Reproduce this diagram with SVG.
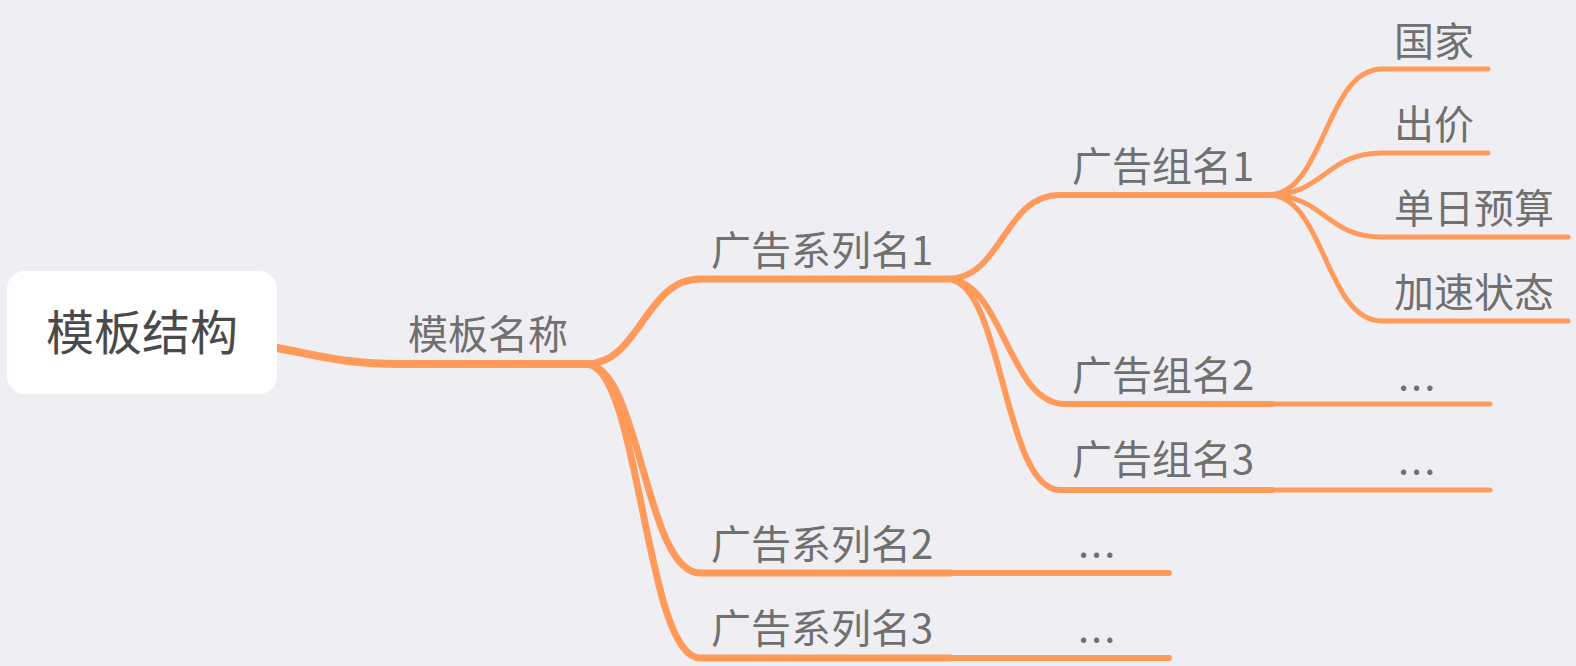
<svg xmlns="http://www.w3.org/2000/svg" width="1576" height="666" viewBox="0 0 1576 666">
<style>
.bg{fill:#efeef3}
.c{fill:none;stroke:#ff9a5a;stroke-linecap:round;stroke-linejoin:round}
.w7{stroke-width:8}.w6{stroke-width:7}.w5{stroke-width:6}.w4{stroke-width:5}
.t{font-family:"Noto Sans CJK SC","Noto Sans",sans-serif;font-size:40px;fill:#707070}
.root{font-family:"Noto Sans CJK SC","Noto Sans",sans-serif;font-size:48px;fill:#4a4a4a}
</style>
<rect class="bg" x="0" y="0" width="1576" height="666"/>
<g id="connectors">
<path class="c w7" d="M277 348 C330 358 350 364 400 364 L586 364" stroke-width="9"/>
<path class="c w6" d="M586 364 C640 364 645 279 700 279 L947 279"/>
<path class="c w6" d="M586 364 C640 364 645 573 700 573 L950 573"/>
<path class="c w5" d="M950 573 L1169 573"/>
<path class="c w6" d="M586 364 C640 364 645 658 700 658 L950 658"/>
<path class="c w5" d="M950 658 L1169 658"/>
<path class="c w5" d="M947 279 C1003 279 1003 195 1060 195 L1268 195"/>
<path class="c w5" d="M947 279 C1003 279 1008 404 1065 404 L1272 404"/>
<path class="c w4" d="M1272 404 L1490 404"/>
<path class="c w5" d="M947 279 C1003 279 1003 490 1060 490 L1272 490"/>
<path class="c w4" d="M1272 490 L1490 490"/>
<path class="c w4" d="M1268 195 C1325 195 1325 69 1382 69 L1488 69"/>
<path class="c w4" d="M1268 195 C1325 195 1325 153 1382 153 L1488 153"/>
<path class="c w4" d="M1268 195 C1325 195 1325 237 1382 237 L1568 237"/>
<path class="c w4" d="M1268 195 C1325 195 1325 321 1382 321 L1568 321"/>
</g>
<g id="root"><rect x="7" y="271" width="270" height="123" rx="18" fill="#ffffff"/><text class="root" x="142" y="350" text-anchor="middle">模板结构</text></g>
<g id="n-template"><text class="t" x="408" y="349">模板名称</text></g>
<g id="n-series1"><text class="t" x="711" y="265">广告系列名1</text></g>
<g id="n-series2"><text class="t" x="711" y="559">广告系列名2</text></g>
<g id="n-series3"><text class="t" x="711" y="643">广告系列名3</text></g>
<g id="n-s2-more"><text class="t" x="1078" y="557" letter-spacing="2">...</text></g>
<g id="n-s3-more"><text class="t" x="1078" y="642" letter-spacing="2">...</text></g>
<g id="n-group1"><text class="t" x="1072" y="181">广告组名1</text></g>
<g id="n-group2"><text class="t" x="1072" y="390">广告组名2</text></g>
<g id="n-group3"><text class="t" x="1072" y="474">广告组名3</text></g>
<g id="n-g2-more"><text class="t" x="1398" y="390" letter-spacing="2">...</text></g>
<g id="n-g3-more"><text class="t" x="1398" y="474" letter-spacing="2">...</text></g>
<g id="n-country"><text class="t" x="1394" y="56">国家</text></g>
<g id="n-bid"><text class="t" x="1394" y="139">出价</text></g>
<g id="n-budget"><text class="t" x="1394" y="223">单日预算</text></g>
<g id="n-accel"><text class="t" x="1394" y="307">加速状态</text></g>
</svg>
